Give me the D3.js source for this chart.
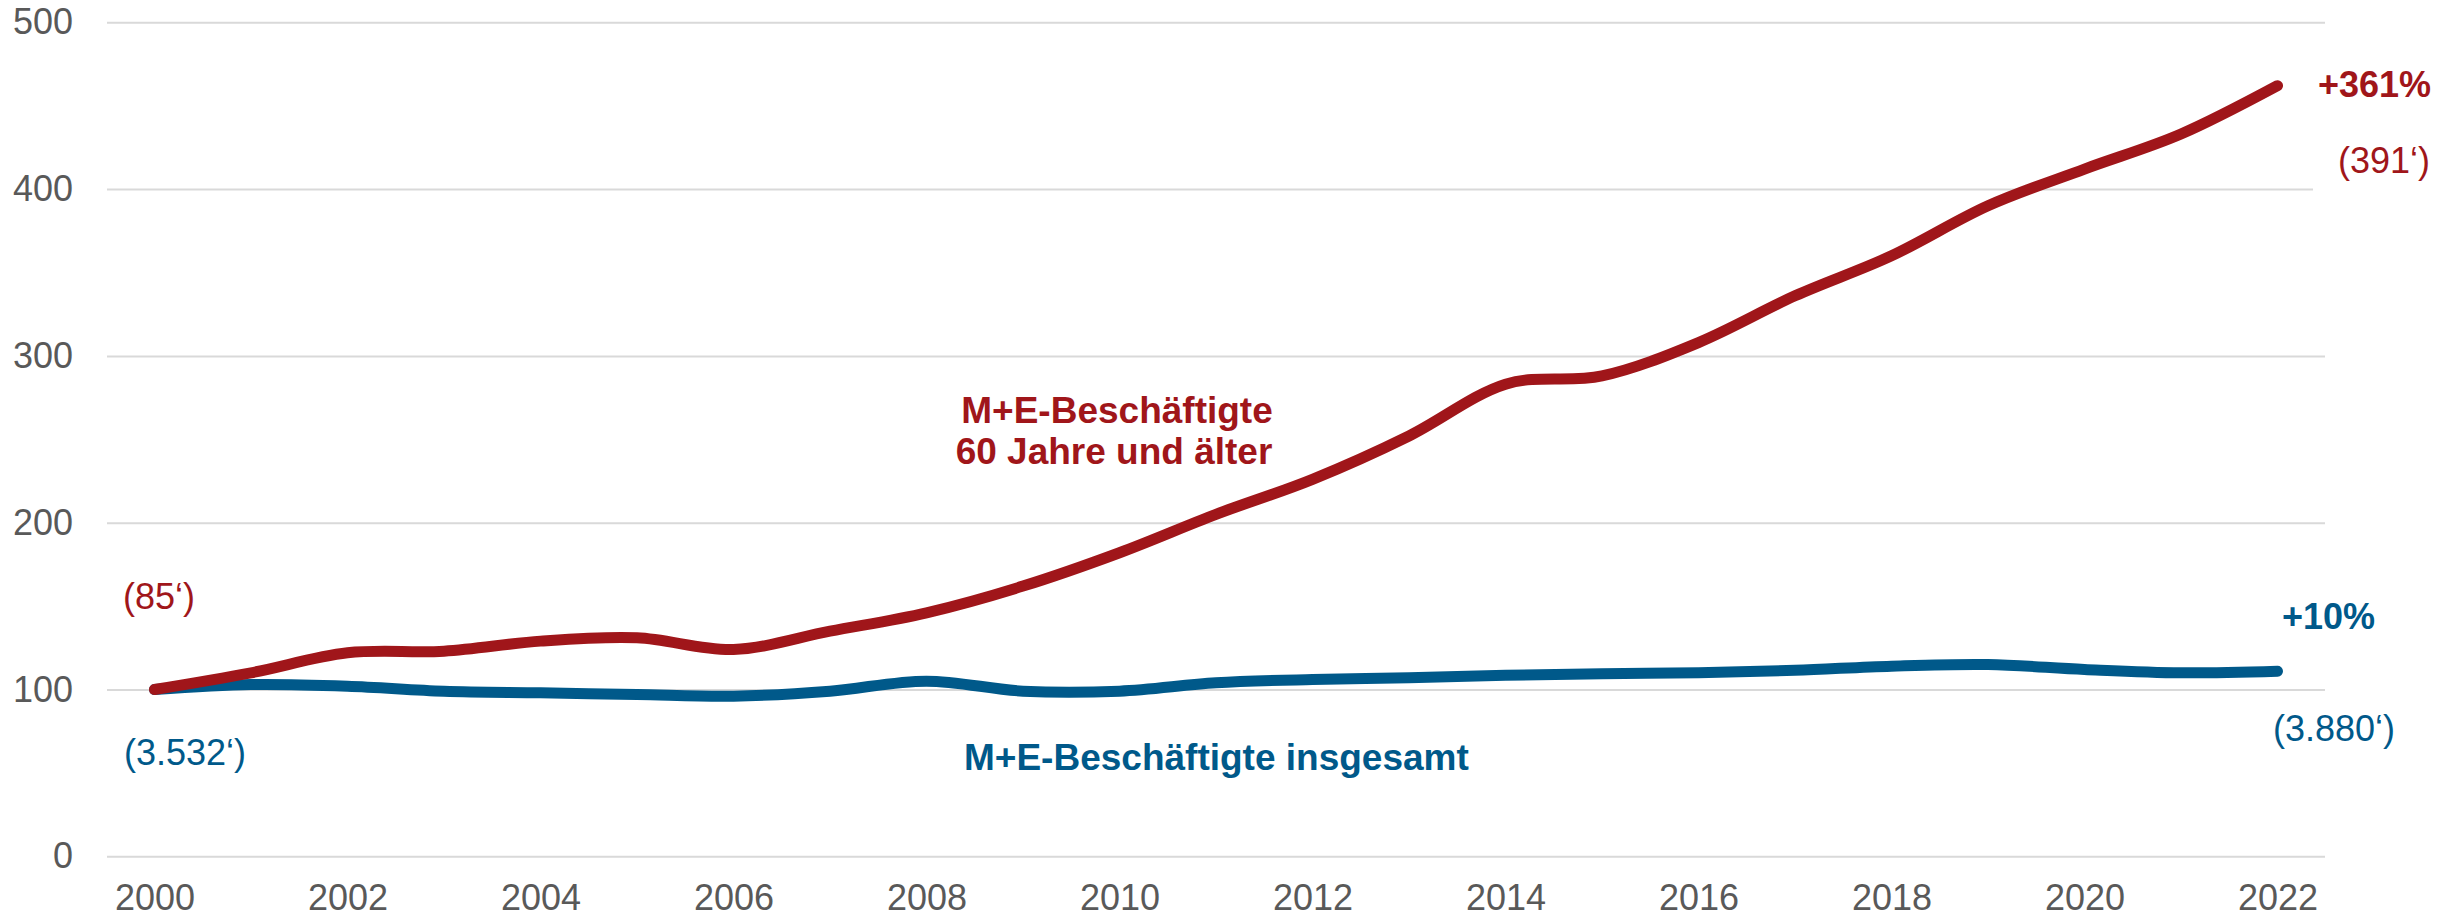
<!DOCTYPE html>
<html>
<head>
<meta charset="utf-8">
<script src="https://cdn.jsdelivr.net/npm/d3@7"></script>
<style>
  body { margin: 0; background: #fff; }
  svg { display: block; font-family: "Liberation Sans", Arial, sans-serif; }
  .grid line { stroke: #d9d9d9; stroke-width: 2; }
  .grid .domain, .xaxis .domain { display: none; }
  .grid text, .xaxis text { fill: #595959; font-size: 36px; }
</style>
</head>
<body>
<svg width="2454" height="919"></svg>
<script>
var years = [2000, 2001, 2002, 2003, 2004, 2005, 2006, 2007, 2008, 2009, 2010, 2011,
             2012, 2013, 2014, 2015, 2016, 2017, 2018, 2019, 2020, 2021, 2022];

// index 2000 = 100
var older = [100, 110, 122, 123, 129, 131, 124, 135, 146, 162, 182, 205,
             226, 252, 283, 288, 308, 336, 360, 390, 412, 433, 462];
var total = [100, 103, 102, 99, 98, 97, 96, 99, 105, 99, 99, 104,
             106, 107, 108.5, 109.5, 110, 111.5, 114, 115, 112, 110, 111];

var yTicks = [0, 100, 200, 300, 400, 500];
var xTicks = [2000, 2002, 2004, 2006, 2008, 2010, 2012, 2014, 2016, 2018, 2020, 2022];

var red = "#a0161a",
    blue = "#00598a";

var svg = d3.select("svg"),
    gridLeft = 107,
    gridRight = 2325;

var x = d3.scaleLinear().domain([2000, 2022]).range([154.5, 2277.5]),
    y = d3.scaleLinear().domain([0, 500]).range([856.3, 22.3]);

svg.append("g")
    .attr("class", "grid")
    .attr("transform", "translate(" + gridRight + ",0)")
    .call(d3.axisLeft(y).tickValues(yTicks).tickSize(gridRight - gridLeft).tickPadding(34));

svg.append("g")
    .attr("class", "xaxis")
    .attr("transform", "translate(0," + y(0) + ")")
    .call(d3.axisBottom(x).tickValues(xTicks).tickSize(0).tickPadding(28).tickFormat(d3.format("d")));

// white box of the end label cuts the 400 gridline
svg.append("rect")
    .attr("x", 2313).attr("y", y(400) - 50)
    .attr("width", 141).attr("height", 56)
    .attr("fill", "#fff");

var line = function(values) {
  return d3.line()
    .x(function(d, i) { return x(years[i]); })
    .y(function(d) { return y(d); })
    .curve(d3.curveCatmullRom.alpha(0))(values);
};

[[total, blue], [older, red]].forEach(function(s) {
  svg.append("path")
      .attr("d", line(s[0]))
      .attr("fill", "none")
      .attr("stroke", s[1])
      .attr("stroke-width", 11)
      .attr("stroke-linejoin", "round")
      .attr("stroke-linecap", "round");
});

function label(txt, px, py, color, bold, anchor, size) {
  return svg.append("text")
      .attr("x", px).attr("y", py)
      .attr("fill", color)
      .attr("font-size", (size || 36) + "px")
      .attr("font-weight", bold ? "bold" : "normal")
      .attr("text-anchor", anchor || "start")
      .text(txt);
}

label("(85\u2018)", 123, 609, red);
label("(3.532\u2018)", 124, 765, blue);
label("+361%", 2318, 97, red, true);
label("(391\u2018)", 2338, 173, red);
label("+10%", 2282, 629, blue, true);
label("(3.880\u2018)", 2273, 741, blue);

label("M+E-Besch\u00e4ftigte", 1117, 423, red, true, "middle", 37);
label("60 Jahre und \u00e4lter", 1114, 464, red, true, "middle", 37);
label("M+E-Besch\u00e4ftigte insgesamt", 964, 770, blue, true, "start", 37);
</script>
</body>
</html>
